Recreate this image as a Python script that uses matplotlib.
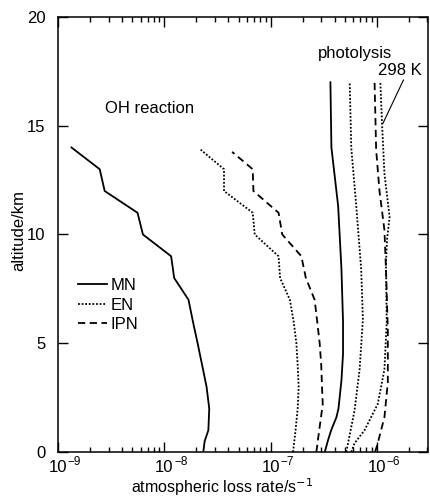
import numpy as np
import matplotlib
matplotlib.use('Agg')
import matplotlib.pyplot as plt
from matplotlib.ticker import LogLocator, NullFormatter, FixedLocator

plt.rcParams['font.family'] = ['Liberation Sans', 'DejaVu Sans']

# OH reaction loss rates (s^-1) vs altitude (km)
alt_mn_oh = [0, 0.5, 1, 2, 3, 4, 5, 6, 7, 8, 9, 10, 11, 12, 13, 14]
mn_oh = [2.33e-8, 2.4e-8, 2.6e-8, 2.65e-8, 2.5e-8, 2.27e-8, 2.06e-8, 1.86e-8,
         1.69e-8, 1.24e-8, 1.16e-8, 6.3e-9, 5.6e-9, 2.75e-9, 2.47e-9, 1.34e-9]

alt_en_oh = [0, 1, 2, 3, 4, 5, 6, 7, 8, 9, 10, 11, 12, 13, 13.9]
en_oh = [1.63e-7, 1.72e-7, 1.8e-7, 1.84e-7, 1.8e-7, 1.75e-7, 1.65e-7, 1.52e-7,
         1.23e-7, 1.19e-7, 7.1e-8, 6.8e-8, 3.65e-8, 3.65e-8, 2.2e-8]

alt_ipn_oh = [0, 0.6, 2.2, 3, 4, 5, 6, 7, 8, 9, 10, 11, 12, 13, 13.8]
ipn_oh = [2.7e-7, 2.8e-7, 3.1e-7, 3.05e-7, 3.0e-7, 2.9e-7, 2.75e-7, 2.6e-7,
          2.15e-7, 1.95e-7, 1.29e-7, 1.19e-7, 6.9e-8, 6.8e-8, 4.35e-8]

# photolysis loss rates
alt_mn_ph = [0, 0.55, 1, 1.6, 2, 3.3, 4.5, 6, 8.4, 10, 11.3, 14, 17]
mn_ph = [3.24e-7, 3.48e-7, 3.72e-7, 4.17e-7, 4.36e-7, 4.65e-7, 4.81e-7, 4.81e-7,
         4.65e-7, 4.47e-7, 4.33e-7, 3.74e-7, 3.66e-7]

alt_en_ph = [0, 0.4, 1.9, 3.8, 6.1, 8.4, 11.3, 14, 17]
en_ph = [5.16e-7, 5.36e-7, 6.17e-7, 6.89e-7, 7.4e-7, 7.13e-7, 6.41e-7, 5.75e-7, 5.56e-7]

alt_ipn_ph = [0, 0.4, 1.6, 3.2, 5.6, 8.4, 10.2, 12, 13.9, 17]
ipn_ph = [9.64e-7, 1.02e-6, 1.18e-6, 1.27e-6, 1.27e-6, 1.22e-6, 1.18e-6, 1.06e-6,
          9.86e-7, 9.53e-7]

alt_298 = [0, 0.4, 1, 2.2, 3.8, 6, 8.7, 9.8, 10.8, 12.8, 15.1, 17]
en_298 = [5.75e-7, 6.17e-7, 7.66e-7, 1.02e-6, 1.18e-6, 1.24e-6, 1.22e-6, 1.25e-6,
          1.32e-6, 1.18e-6, 1.12e-6, 1.08e-6]

decades = [-9, -8, -7, -6]

fs = 12

fig = plt.figure(figsize=(4.3, 4.98), dpi=100)
ax = fig.add_axes([58 / 430, 1 - 452 / 498, 369.5 / 430, 435 / 498])

lw = 1.3
dot = (0, (1, 1))
dash = (0, (4, 2.5))

ax.plot(mn_oh, alt_mn_oh, color='black', lw=lw, ls='-', label='MN')
ax.plot(en_oh, alt_en_oh, color='black', lw=lw, ls=dot, label='EN')
ax.plot(ipn_oh, alt_ipn_oh, color='black', lw=lw, ls=dash, label='IPN')

ax.plot(mn_ph, alt_mn_ph, color='black', lw=lw, ls='-')
ax.plot(en_ph, alt_en_ph, color='black', lw=lw, ls=dot)
ax.plot(ipn_ph, alt_ipn_ph, color='black', lw=lw, ls=dash)
ax.plot(en_298, alt_298, color='black', lw=lw, ls=dot)

ax.set_xscale('log')
ax.set_xlim(1e-9, 3e-6)
ax.set_ylim(0, 20)

ax.xaxis.set_major_locator(LogLocator(base=10, numticks=10))
ax.xaxis.set_minor_locator(LogLocator(base=10, subs=np.arange(2, 10), numticks=20))
ax.xaxis.set_major_formatter(NullFormatter())
ax.xaxis.set_minor_formatter(NullFormatter())
ax.yaxis.set_major_locator(FixedLocator([0, 5, 10, 15, 20]))

ax.tick_params(axis='both', which='major', direction='in', length=7, width=1,
               top=True, right=True, labelsize=fs)
ax.tick_params(axis='y', which='major', pad=9)
ax.tick_params(axis='x', which='minor', direction='in', length=3.6, width=1, top=True)
for s in ax.spines.values():
    s.set_linewidth(1.1)

# decade labels: "10" centred on the tick, exponent hanging to the right
for d in decades:
    ax.annotate('10', xy=(10.0 ** d, 0), xycoords=('data', 'axes fraction'),
                xytext=(0, -14.4), textcoords='offset points',
                ha='center', va='baseline', fontsize=fs)
    ax.annotate('\u2212' + str(abs(d)), xy=(10.0 ** d, 0),
                xycoords=('data', 'axes fraction'),
                xytext=(7.0, -9.4), textcoords='offset points',
                ha='left', va='baseline', fontsize=8.5)

ax.set_xlabel('atmospheric loss rate/s$^{-1}$', fontsize=11.5)
ax.xaxis.set_label_coords(0.445, -0.057)
ax.set_ylabel('altitude/km', fontsize=fs)
ax.yaxis.set_label_coords(-0.087, 0.51)

ax.text(7.3e-9, 15.8, 'OH reaction', fontsize=fs, ha='center', va='center')
ax.text(6.2e-7, 18.3, 'photolysis', fontsize=fs, ha='center', va='center')
ax.text(1.64e-6, 17.55, '298 K', fontsize=fs, ha='center', va='center')
ax.plot([1.78e-6, 1.14e-6], [17.1, 15.1], color='black', lw=0.8)

ax.legend(loc='upper left', bbox_to_anchor=(0.054, 0.40), frameon=False,
          fontsize=fs, handlelength=1.75, handletextpad=0.2, labelspacing=0.27,
          borderpad=0, borderaxespad=0)

fig.savefig('out.png', dpi=100)
